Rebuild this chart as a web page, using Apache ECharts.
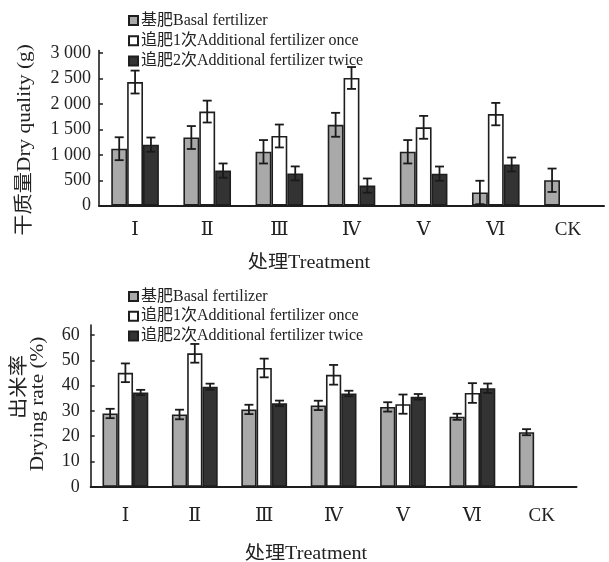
<!DOCTYPE html>
<html>
<head>
<meta charset="utf-8">
<script src="https://cdn.jsdelivr.net/npm/echarts@6/dist/echarts.min.js"></script>
<style>html,body{margin:0;padding:0;background:#fff}#c{width:609px;height:562px}</style>
</head>
<body>
<div id="c"></div>
<script>
const categories = ['Ⅰ','Ⅱ','Ⅲ','Ⅳ','Ⅴ','Ⅵ','CK'];
const seriesNames = ['基肥Basal fertilizer','追肥1次Additional fertilizer once','追肥2次Additional fertilizer twice'];

// Dry quality (g)
const dryBasal = [1120, 1340, 1060, 1590, 1060, 260, 500];
const dryOnce  = [2430, 1850, 1370, 2510, 1540, 1800, null];
const dryTwice = [1200, 690, 635, 395, 630, 810, null];
const dryBasalErr = [225, 225, 230, 235, 230, 230, 230];
const dryOnceErr  = [225, 215, 225, 215, 225, 220, null];
const dryTwiceErr = [140, 140, 137, 140, 140, 137, null];
const dryTicks = [0, 500, 1000, 1500, 2000, 2500, 3000];

// Drying rate (%)
const rateBasal = [29.0, 28.6, 30.6, 32.2, 31.6, 27.7, 21.6];
const rateOnce  = [45.1, 52.8, 47.0, 44.3, 32.7, 37.1, null];
const rateTwice = [37.3, 39.6, 33.0, 36.9, 35.6, 39.0, null];
const rateBasalErr = [1.85, 1.9, 1.85, 1.85, 1.85, 1.2, 1.2];
const rateOnceErr  = [3.7, 3.7, 3.7, 3.9, 3.8, 3.9, null];
const rateTwiceErr = [1.05, 1.2, 1.1, 1.1, 1.1, 1.85, null];
const rateTicks = [0, 10, 20, 30, 40, 50, 60];

const colors = ['#a9a9a9', '#ffffff', '#333333'];
const SERIF = "'Liberation Serif','DejaVu Serif','Noto Sans CJK SC',serif";
const BAR_W = 0.22;

function errData(vals, errs) {
  const out = [];
  vals.forEach((v, i) => { if (v != null && errs[i] != null) out.push([i, v, errs[i]]); });
  return out;
}
function errSeries(vals, errs, slot, idx) {
  return {
    type: 'custom', xAxisIndex: idx, yAxisIndex: idx, z: 10, silent: true,
    data: errData(vals, errs),
    renderItem: function (params, api) {
      const xi = api.value(0), v = api.value(1), e = api.value(2);
      const band = api.size([1, 0])[0];
      const x = api.coord([xi, v])[0] + slot * BAR_W * band;
      const yt = api.coord([xi, v + e])[1];
      const yb = api.coord([xi, v - e])[1];
      const hw = 4.5;
      const st = { stroke: '#1a1a1a', lineWidth: 1.8 };
      return { type: 'group', children: [
        { type: 'line', shape: { x1: x, y1: yt, x2: x, y2: yb }, style: st },
        { type: 'line', shape: { x1: x - hw, y1: yt, x2: x + hw, y2: yt }, style: st },
        { type: 'line', shape: { x1: x - hw, y1: yb, x2: x + hw, y2: yb }, style: st }
      ]};
    }
  };
}
function barSeries(vals, k, idx) {
  return {
    type: 'bar', name: seriesNames[k], xAxisIndex: idx, yAxisIndex: idx,
    data: vals.map(v => v == null ? '-' : v),
    barWidth: (BAR_W * 100) + '%', barGap: '0%',
    itemStyle: { color: colors[k], borderColor: '#1e1e1e', borderWidth: 1.6 }
  };
}
function fmtThousands(v) {
  return v >= 1000 ? Math.floor(v / 1000) + ' ' + String(v % 1000).padStart(3, '0') : String(v);
}
function xAxisCfg(idx) {
  return {
    type: 'category', gridIndex: idx, data: categories, boundaryGap: true,
    axisLine: { lineStyle: { color: '#1e1e1e', width: 2 } },
    axisTick: { inside: true, length: 4, lineStyle: { color: '#1e1e1e', width: 1.5 } },
    axisLabel: { color: '#222', fontFamily: SERIF, fontSize: 19, margin: idx === 0 ? 15 : 20 }
  };
}
function yAxisCfg(idx, max, ticks, fmt, margin) {
  return {
    type: 'value', gridIndex: idx, min: 0, max: max,
    splitLine: { show: false },
    axisLine: { show: true, lineStyle: { color: '#1e1e1e', width: 1.6 } },
    axisTick: { show: true, inside: true, length: 4, customValues: ticks, lineStyle: { color: '#1e1e1e', width: 1.5 } },
    axisLabel: { customValues: ticks, formatter: fmt, color: '#222', fontFamily: SERIF, fontSize: 18, margin: margin }
  };
}
function legendCfg(top, gap) {
  return {
    orient: 'vertical', left: 128, top: top, itemWidth: 9, itemHeight: 9, itemGap: gap,
    icon: 'rect', padding: 0, selectedMode: false,
    data: seriesNames,
    textStyle: { fontFamily: SERIF, fontSize: 16, color: '#222', lineHeight: 15, padding: [0, 0, 0, -2] }
  };
}

const chart = echarts.init(document.getElementById('c'), null, { renderer: 'canvas' });
chart.setOption({
  backgroundColor: '#fff',
  animation: false,
  legend: [legendCfg(12.5, 4.3), legendCfg(288.5, 3.7)],
  grid: [
    { left: 99, width: 505, top: 50.5, height: 155.2, outerBoundsMode: 'none', containLabel: false },
    { left: 90.7, width: 485.8, top: 325, height: 161.8, outerBoundsMode: 'none', containLabel: false }
  ],
  xAxis: [xAxisCfg(0), xAxisCfg(1)],
  yAxis: [
    yAxisCfg(0, 3050, dryTicks, fmtThousands, 8),
    yAxisCfg(1, 64, rateTicks, v => String(v), 11)
  ],
  series: [
    barSeries(dryBasal, 0, 0), barSeries(dryOnce, 1, 0), barSeries(dryTwice, 2, 0),
    errSeries(dryBasal, dryBasalErr, -1, 0), errSeries(dryOnce, dryOnceErr, 0, 0), errSeries(dryTwice, dryTwiceErr, 1, 0),
    barSeries(rateBasal, 0, 1), barSeries(rateOnce, 1, 1), barSeries(rateTwice, 2, 1),
    errSeries(rateBasal, rateBasalErr, -1, 1), errSeries(rateOnce, rateOnceErr, 0, 1), errSeries(rateTwice, rateTwiceErr, 1, 1)
  ],
  graphic: [
    { type: 'text', x: 309, y: 263, scaleX: 1.12, style: { text: '处理Treatment', align: 'center', verticalAlign: 'middle', font: "18px " + SERIF, fill: '#222' } },
    { type: 'text', x: 306, y: 554, scaleX: 1.12, style: { text: '处理Treatment', align: 'center', verticalAlign: 'middle', font: "18px " + SERIF, fill: '#222' } },
    { type: 'text', x: 25, y: 140, rotation: Math.PI / 2, scaleX: 1.12, style: { text: '干质量Dry quality (g)', align: 'center', verticalAlign: 'middle', font: "19px " + SERIF, fill: '#222' } },
    { type: 'text', x: 20, y: 387, rotation: Math.PI / 2, scaleX: 1.12, style: { text: '出米率', align: 'center', verticalAlign: 'middle', font: "19px " + SERIF, fill: '#222' } },
    { type: 'text', x: 38, y: 404, rotation: Math.PI / 2, scaleX: 1.12, style: { text: 'Drying rate (%)', align: 'center', verticalAlign: 'middle', font: "19px " + SERIF, fill: '#222' } }
  ]
});
</script>
</body>
</html>
